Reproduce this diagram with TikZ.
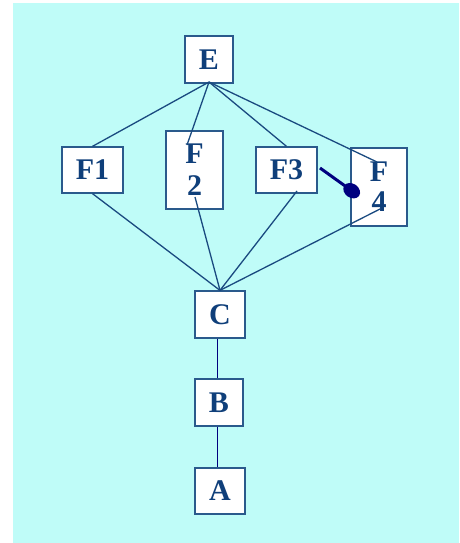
\documentclass[tikz,border=0pt]{standalone}
\usepackage{fontspec}
\setmainfont{Liberation Serif}
\definecolor{bgc}{HTML}{BFFCF8}
\definecolor{txc}{HTML}{0F3F7A}
\definecolor{bdc}{HTML}{2A5A8C}
\definecolor{lnc}{HTML}{1A4A80}
\definecolor{nvc}{HTML}{00007F}
\tikzset{
  box/.style={draw=bdc, line width=1.3pt, fill=white, inner sep=0pt, text=txc,
    font=\fontsize{30}{32}\selectfont\bfseries, align=center},
  link/.style={draw=lnc, line width=1.3pt},
  dlink/.style={draw=nvc, line width=1.3pt},
}
\begin{document}
\begin{tikzpicture}[x=1pt,y=-1pt]
\useasboundingbox (0,0) rectangle (459,543);
\fill[bgc] (13,3) rectangle (459,543);
% boxes
\node[box, minimum width=48pt, minimum height=47pt] (E) at (209,59.5) {E};
\node[box, minimum width=61pt, minimum height=46pt] (F1) at (92.5,170) {F1};
\node[box, minimum width=57pt, minimum height=78pt] (F2) at (194.5,170) {F\\2};
\node[box, minimum width=61pt, minimum height=46pt] (F3) at (286.5,170) {F3};
\node[box, minimum width=56pt, minimum height=78pt] (F4) at (379,187) {F\\[-2pt]4};
\node[box, minimum width=50pt, minimum height=47pt] (C) at (220,314.5) {C};
\node[box, minimum width=48pt, minimum height=47pt] (B) at (219,402.5) {B};
\node[box, minimum width=50pt, minimum height=46pt] (A) at (220,491) {A};
% free ends of connectors (inside boxes)
\coordinate (Eo) at (209,82);
\coordinate (F2t) at (187,145);
\coordinate (F4t) at (377,162);
\coordinate (F2b) at (195,197);
\coordinate (F3b) at (297,191);
\coordinate (F4b) at (380,209);
\coordinate (F3r) at (320,168);
\coordinate (F4l) at (351.7,190.7);
% connectors
\draw[link] (Eo) -- (F1.north);
\draw[link] (Eo) -- (F2t);
\draw[link] (Eo) -- (F3.north);
\draw[link] (Eo) -- (F4t);
\draw[link] (F1.south) -- (C.north);
\draw[link] (F2b) -- (C.north);
\draw[link] (F3b) -- (C.north);
\draw[link] (F4b) -- (C.north);
\draw[dlink] (C.south -| 217.7,0) -- (B.north -| 217.7,0);
\draw[dlink] (B.south -| 217.7,0) -- (A.north -| 217.7,0);
\draw[draw=nvc, line width=3pt] (F3r) -- (F4l);
\fill[nvc, rotate around={-35:(F4l)}] (F4l) ellipse [x radius=9pt, y radius=7pt];
\end{tikzpicture}
\end{document}
